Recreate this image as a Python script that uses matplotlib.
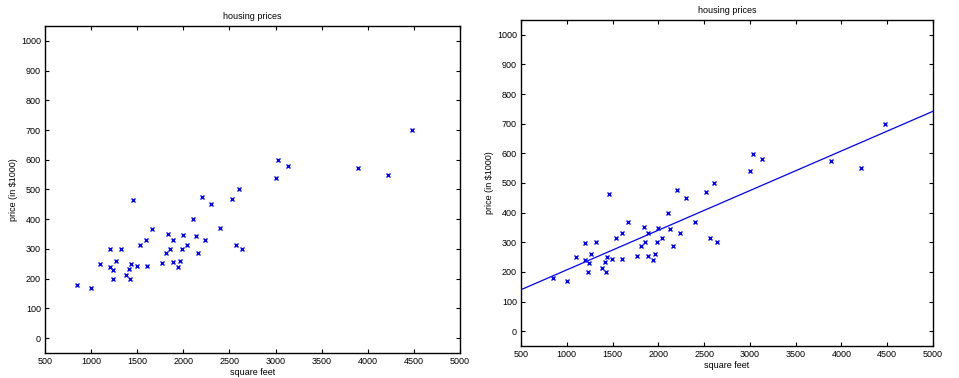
import matplotlib
matplotlib.use("Agg")
import matplotlib.pyplot as plt

# house size (sq ft) and price (in $1000)
sizes = [2104, 1600, 2400, 1416, 3000, 1985, 1534, 1427, 1380, 1494, 1940, 2000,
         1890, 4478, 1268, 2300, 1320, 1236, 2609, 3031, 1767, 1888, 1604, 1962,
         3890, 1100, 1458, 2526, 2200, 2637, 1839, 1000, 2040, 3137, 1811, 1437,
         1239, 2132, 4215, 2162, 1664, 2238, 2567, 1200, 852, 1852, 1203]
prices = [399.9, 329.9, 369.0, 232.0, 539.9, 299.9, 314.9, 199.0, 212.0, 242.5,
          240.0, 347.0, 330.0, 699.9, 259.9, 449.9, 299.9, 199.9, 500.0, 599.0,
          252.9, 255.0, 242.9, 259.9, 573.9, 249.9, 464.5, 469.0, 475.0, 299.9,
          349.9, 169.9, 314.9, 579.9, 285.9, 249.9, 229.9, 345.0, 549.0, 287.0,
          368.5, 329.9, 314.0, 299.0, 179.9, 299.9, 239.5]

# straight line drawn through the data in the right panel
line_x = [500, 5000]
line_y = [140, 742]

x_ticks = list(range(500, 5001, 500))
y_ticks = list(range(0, 1001, 100))

plt.rcParams['font.family'] = ['Liberation Sans', 'DejaVu Sans']

W, H = 959, 378
fig = plt.figure(figsize=(W / 100, H / 100), dpi=100)


def px_axes(left, top, right, bottom):
    return fig.add_axes([left / W, 1 - bottom / H, (right - left) / W, (bottom - top) / H])


def style(ax, title, title_pad, xlabel_pad):
    ax.set_xlim(500, 5000)
    ax.set_ylim(-50, 1050)
    ax.set_xticks(x_ticks)
    ax.set_yticks(y_ticks)
    ax.tick_params(direction='in', top=True, right=True, labelsize=6.5, length=3, pad=3)
    ax.set_title(title, fontsize=6.5, pad=title_pad)
    ax.set_xlabel('square feet', fontsize=6.5, labelpad=xlabel_pad)
    ax.set_ylabel(r'price (in \$1000)', fontsize=6.5, labelpad=2)
    for s in ax.spines.values():
        s.set_linewidth(1.0)


ax1 = px_axes(45, 26, 460, 353)
ax1.plot(sizes, prices, 'x', color='blue', markersize=3.5, markeredgewidth=1.0)
style(ax1, 'housing prices', 5, 1)

ax2 = px_axes(521, 20, 933, 346)
ax2.plot(sizes, prices, 'x', color='blue', markersize=3.5, markeredgewidth=1.0)
ax2.plot(line_x, line_y, '-', color='blue', linewidth=0.9)
style(ax2, 'housing prices', 5, 1)

fig.savefig('out.png', dpi=100)
